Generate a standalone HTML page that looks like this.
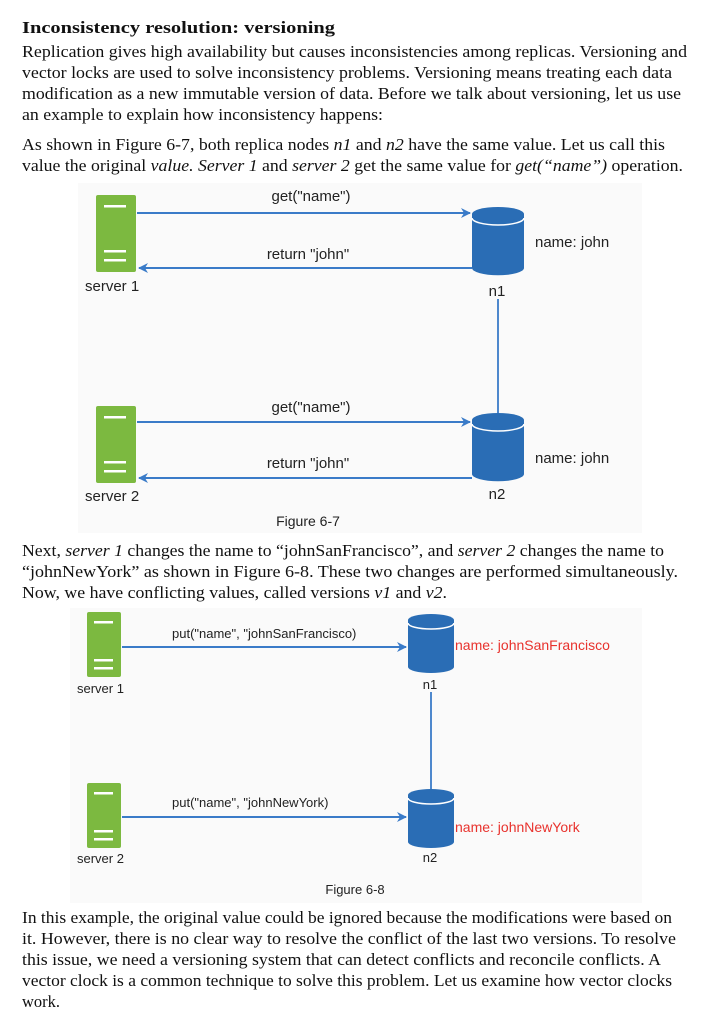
<!DOCTYPE html>
<html><head><meta charset="utf-8"><style>
html,body{margin:0;padding:0;background:#fff}
svg{display:block}
.t{font-family:"Liberation Serif",serif;font-size:17px;fill:#111}
.s{font-family:"Liberation Sans",sans-serif;fill:#222}
</style></head><body>
<svg width="711" height="1013" viewBox="0 0 711 1013" xmlns="http://www.w3.org/2000/svg">
<defs>
<marker id="a" markerWidth="10" markerHeight="10" refX="9" refY="5" orient="auto" markerUnits="userSpaceOnUse"><path d="M0,0 L10,5 L0,10 L3,5 Z" fill="#3a7bc8"/></marker>
</defs>
<text class="t" x="22" y="33" font-weight="bold" font-size="20" textLength="313" lengthAdjust="spacingAndGlyphs">Inconsistency resolution: versioning</text>
<text class="t" x="22" y="57" textLength="665" lengthAdjust="spacingAndGlyphs">Replication gives high availability but causes inconsistencies among replicas. Versioning and</text>
<text class="t" x="22" y="78" textLength="650" lengthAdjust="spacingAndGlyphs">vector locks are used to solve inconsistency problems. Versioning means treating each data</text>
<text class="t" x="22" y="99" textLength="659" lengthAdjust="spacingAndGlyphs">modification as a new immutable version of data. Before we talk about versioning, let us use</text>
<text class="t" x="22" y="120" textLength="361" lengthAdjust="spacingAndGlyphs">an example to explain how inconsistency happens:</text>
<text class="t" x="22" y="150" textLength="643" lengthAdjust="spacingAndGlyphs">As shown in Figure 6-7, both replica nodes <tspan font-style="italic">n1</tspan> and <tspan font-style="italic">n2</tspan> have the same value. Let us call this</text>
<text class="t" x="22" y="171" textLength="661" lengthAdjust="spacingAndGlyphs">value the original <tspan font-style="italic">value. Server 1</tspan> and <tspan font-style="italic">server 2</tspan> get the same value for <tspan font-style="italic">get(“name”)</tspan> operation.</text>

<!-- Figure 6-7 -->
<rect x="78" y="183" width="564" height="350" fill="#fafafa"/>
<g>
<rect x="96" y="195" width="40" height="77" rx="2" fill="#7cb940"/>
<rect x="104" y="205" width="22" height="2.5" fill="#fff"/>
<rect x="104" y="250" width="22" height="2.5" fill="#fff"/>
<rect x="104" y="259" width="22" height="2.5" fill="#fff"/>
</g>
<g>
<rect x="96" y="406" width="40" height="77" rx="2" fill="#7cb940"/>
<rect x="104" y="416" width="22" height="2.5" fill="#fff"/>
<rect x="104" y="461" width="22" height="2.5" fill="#fff"/>
<rect x="104" y="470" width="22" height="2.5" fill="#fff"/>
</g>
<g fill="#2a6db5">
<path d="M472,214 v54 a25,7 0 0 0 52,0 v-54 Z"/>
<ellipse cx="498" cy="214" rx="26" ry="7"/>
<path d="M472,218 a26,7 0 0 0 52,0" fill="none" stroke="#fff" stroke-width="1.5"/>
<path d="M472,420 v54 a25,7 0 0 0 52,0 v-54 Z"/>
<ellipse cx="498" cy="420" rx="26" ry="7"/>
<path d="M472,424 a26,7 0 0 0 52,0" fill="none" stroke="#fff" stroke-width="1.5"/>
</g>
<g stroke="#3a7bc8" stroke-width="2" fill="none">
<line x1="137" y1="213" x2="470" y2="213" marker-end="url(#a)"/>
<line x1="472" y1="268" x2="139" y2="268" marker-end="url(#a)"/>
<line x1="137" y1="422" x2="470" y2="422" marker-end="url(#a)"/>
<line x1="472" y1="478" x2="139" y2="478" marker-end="url(#a)"/>
<line x1="498" y1="299" x2="498" y2="413" stroke-width="1.8"/>
</g>
<g class="s" font-size="15">
<text x="311" y="201" text-anchor="middle">get("name")</text>
<text x="308" y="259" text-anchor="middle">return "john"</text>
<text x="311" y="412" text-anchor="middle">get("name")</text>
<text x="308" y="468" text-anchor="middle">return "john"</text>
<text x="535" y="247">name: john</text>
<text x="535" y="463">name: john</text>
<text x="85" y="291">server 1</text>
<text x="85" y="501">server 2</text>
<text x="497" y="296" text-anchor="middle">n1</text>
<text x="497" y="499" text-anchor="middle">n2</text>
<text x="308" y="526" text-anchor="middle" font-size="14">Figure 6-7</text>
</g>

<text class="t" x="22" y="556" textLength="642" lengthAdjust="spacingAndGlyphs">Next, <tspan font-style="italic">server 1</tspan> changes the name to “johnSanFrancisco”, and <tspan font-style="italic">server 2</tspan> changes the name to</text>
<text class="t" x="22" y="577" textLength="656" lengthAdjust="spacingAndGlyphs">“johnNewYork” as shown in Figure 6-8. These two changes are performed simultaneously.</text>
<text class="t" x="22" y="598" textLength="425" lengthAdjust="spacingAndGlyphs">Now, we have conflicting values, called versions <tspan font-style="italic">v1</tspan> and <tspan font-style="italic">v2</tspan>.</text>

<!-- Figure 6-8 -->
<rect x="70" y="608" width="572" height="295" fill="#fafafa"/>
<g>
<rect x="87" y="612" width="34" height="65" rx="2" fill="#7cb940"/>
<rect x="94" y="621" width="19" height="2.5" fill="#fff"/>
<rect x="94" y="659" width="19" height="2.5" fill="#fff"/>
<rect x="94" y="667" width="19" height="2.5" fill="#fff"/>
</g>
<g>
<rect x="87" y="783" width="34" height="65" rx="2" fill="#7cb940"/>
<rect x="94" y="792" width="19" height="2.5" fill="#fff"/>
<rect x="94" y="830" width="19" height="2.5" fill="#fff"/>
<rect x="94" y="838" width="19" height="2.5" fill="#fff"/>
</g>
<g fill="#2a6db5">
<path d="M408,620 v47 a23,6 0 0 0 46,0 v-47 Z"/>
<ellipse cx="431" cy="620" rx="23" ry="6"/>
<path d="M408,623 a23,6 0 0 0 46,0" fill="none" stroke="#fff" stroke-width="1.5"/>
<path d="M408,795 v47 a23,6 0 0 0 46,0 v-47 Z"/>
<ellipse cx="431" cy="795" rx="23" ry="6"/>
<path d="M408,798 a23,6 0 0 0 46,0" fill="none" stroke="#fff" stroke-width="1.5"/>
</g>
<g stroke="#3a7bc8" stroke-width="2" fill="none">
<line x1="122" y1="647" x2="406" y2="647" marker-end="url(#a)"/>
<line x1="122" y1="817" x2="406" y2="817" marker-end="url(#a)"/>
<line x1="431" y1="692" x2="431" y2="789" stroke-width="1.8"/>
</g>
<g class="s" font-size="13">
<text x="172" y="638">put("name", "johnSanFrancisco)</text>
<text x="172" y="807">put("name", "johnNewYork)</text>
<text x="455" y="650" fill="#e8322d" font-size="14">name: johnSanFrancisco</text>
<text x="455" y="832" fill="#e8322d" font-size="14">name: johnNewYork</text>
<text x="77" y="693">server 1</text>
<text x="77" y="863">server 2</text>
<text x="430" y="689" text-anchor="middle">n1</text>
<text x="430" y="862" text-anchor="middle">n2</text>
<text x="355" y="894" text-anchor="middle">Figure 6-8</text>
</g>

<text class="t" x="22" y="923" textLength="650" lengthAdjust="spacingAndGlyphs">In this example, the original value could be ignored because the modifications were based on</text>
<text class="t" x="22" y="944" textLength="654" lengthAdjust="spacingAndGlyphs">it. However, there is no clear way to resolve the conflict of the last two versions. To resolve</text>
<text class="t" x="22" y="965" textLength="639" lengthAdjust="spacingAndGlyphs">this issue, we need a versioning system that can detect conflicts and reconcile conflicts. A</text>
<text class="t" x="22" y="986" textLength="650" lengthAdjust="spacingAndGlyphs">vector clock is a common technique to solve this problem. Let us examine how vector clocks</text>
<text class="t" x="22" y="1007" textLength="38" lengthAdjust="spacingAndGlyphs">work.</text>
</svg>
</body></html>
